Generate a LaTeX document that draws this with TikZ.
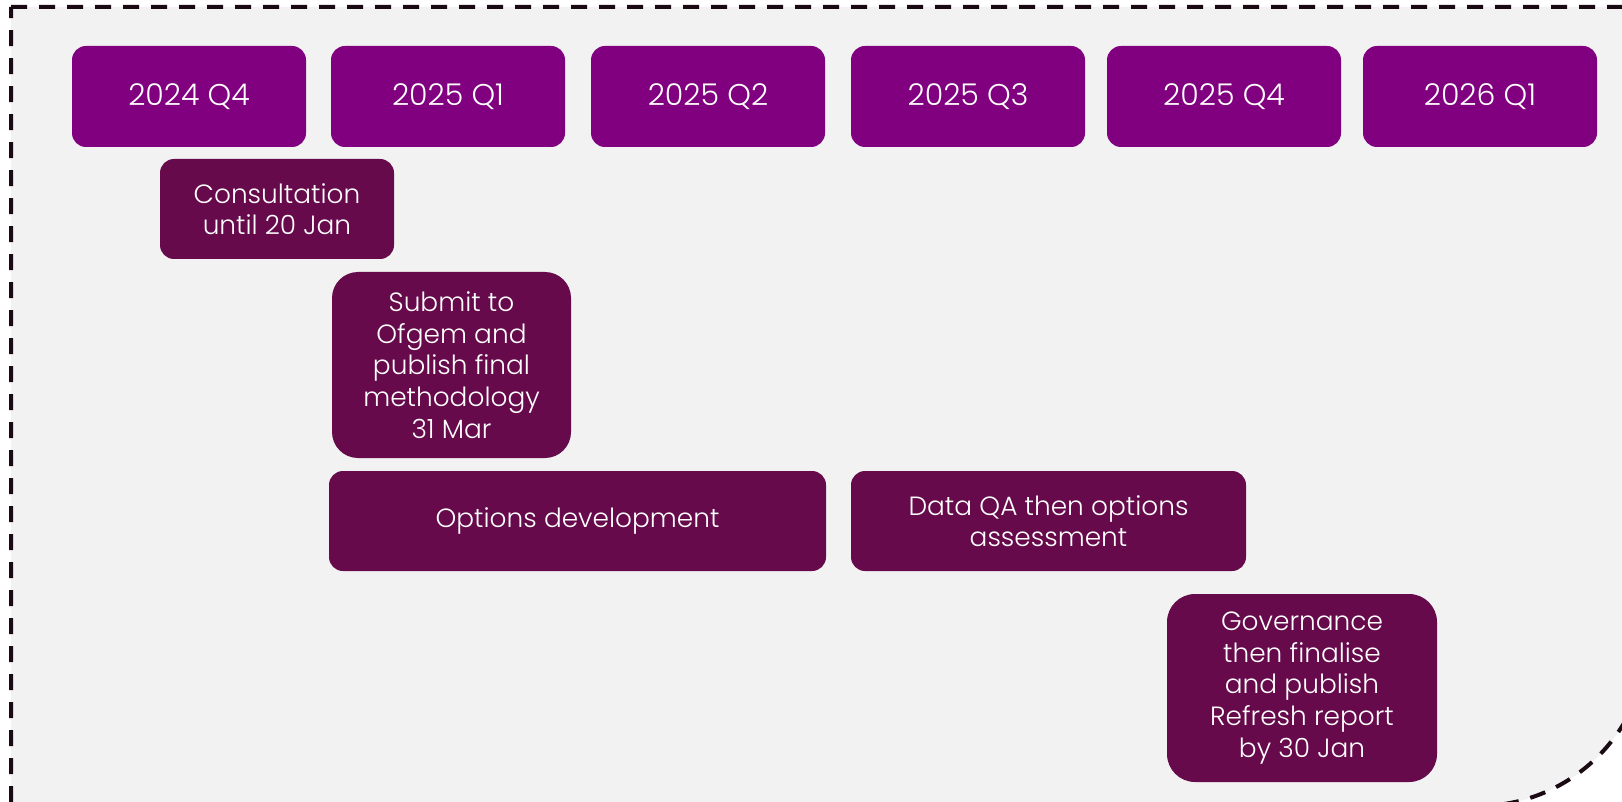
\documentclass[tikz,border=0pt]{standalone}
\usepackage{fontspec}
\setmainfont{Poppins}[UprightFont=* Light]
\usepackage{xcolor}
\usepackage{tikz}
\usetikzlibrary{positioning}

\definecolor{qpurple}{HTML}{800080}
\definecolor{tplum}{HTML}{660A4C}
\definecolor{panel}{HTML}{F2F2F2}
\definecolor{edge}{HTML}{1A0A14}

\begin{document}
\begin{tikzpicture}[
    x=0.5pt, y=-0.5pt,
    quarter/.style={fill=qpurple, rounded corners=7pt, anchor=north west, inner sep=0pt, outer sep=0pt, minimum width=117pt, minimum height=50.5pt, text=white, font=\fontsize{15}{18}\selectfont},
    task/.style={fill=tplum, rounded corners=7pt, anchor=north west, inner sep=0pt, outer sep=0pt, minimum height=50pt, align=center, text=white, font=\fontsize{13.2}{15.8}\selectfont},
    frame/.style={draw=edge, fill=panel, line width=2pt, dash pattern=on 8pt off 6pt}
]
\useasboundingbox (0,0) rectangle (1622,802);

% Frame
\begin{scope}
\clip (0,0) rectangle (1622,802);
\path[frame] (11,7) -- (1648,7) -- (1648,636) arc[start angle=0, end angle=90, radius=170] -- (11,806) -- cycle;
\end{scope}

% Quarters
\node (q24q4) [quarter] at (72,46) {2024 Q4};
\node (q25q1) [quarter] at (331,46) {2025 Q1};
\node (q25q2) [quarter] at (591,46) {2025 Q2};
\node (q25q3) [quarter] at (851,46) {2025 Q3};
\node (q25q4) [quarter] at (1107,46) {2025 Q4};
\node (q26q1) [quarter] at (1363,46) {2026 Q1};

% Tasks
\node (consult) [task, minimum width=117pt] at (160,159) {Consultation\\until 20 Jan};
\node (submit) [task, minimum width=119.5pt, minimum height=93pt, rounded corners=13pt] at (332,272) {Submit to\\Ofgem and\\publish final\\methodology\\31 Mar};
\node (optdev) [task, minimum width=248.5pt] at (329,471) {Options development};
\node (dataqa) [task, minimum width=197.5pt] at (851,471) {Data QA then options\\assessment};
\node (govern) [task, minimum width=135pt, minimum height=94pt, rounded corners=14pt] at (1167,594) {Governance\\then finalise\\and publish\\Refresh report\\by 30 Jan};

\end{tikzpicture}
\end{document}
